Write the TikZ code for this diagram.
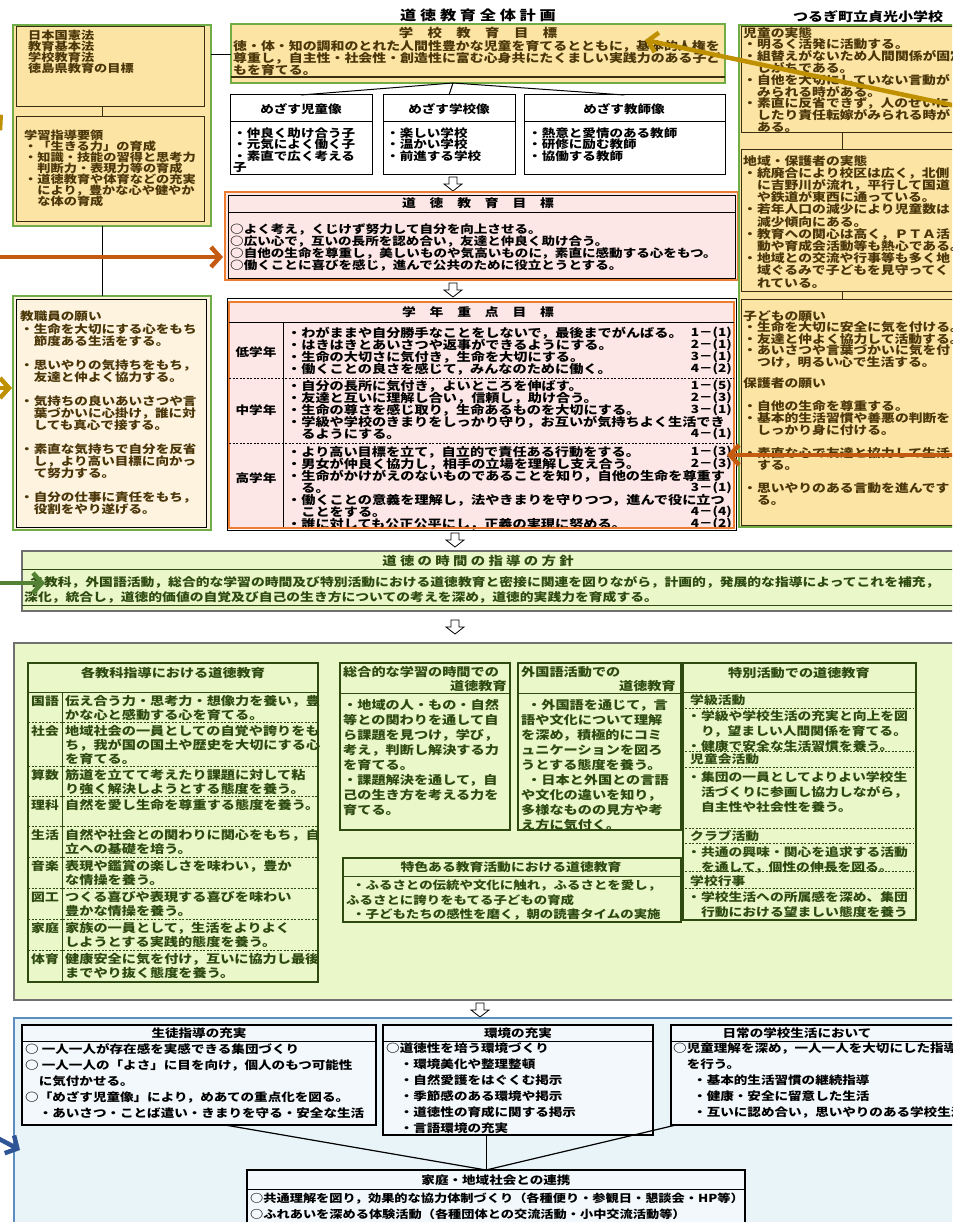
\documentclass[tikz,border=0pt]{standalone}
\usepackage{fontspec}
\setmainfont{Noto Sans CJK JP}[FakeStretch=1.2]
\usetikzlibrary{arrows.meta}
\newcommand{\fsz}[2]{\fontsize{#1}{#2}\selectfont\bfseries\lineskiplimit=-30pt\lineskip=0pt\relax}
\newcommand{\harrow}[2]{\draw[hollow, shift={(#1,#2)}] (-4,0) -- (4,0) -- (4,7) -- (9,7) -- (0,14) -- (-9,7) -- (-4,7) -- cycle;}
\definecolor{ylw}{HTML}{FCE4A4}
\definecolor{cream}{HTML}{FDF3DF}
\definecolor{gbord}{HTML}{70AD47}
\definecolor{obord}{HTML}{ED7D31}
\definecolor{pinkf}{HTML}{FDE6E6}
\definecolor{arrO}{HTML}{C55A11}
\definecolor{arrG}{HTML}{BF9000}
\definecolor{arrGr}{HTML}{548235}
\definecolor{arrB}{HTML}{2F5597}
\definecolor{lime}{HTML}{EAF7C8}
\definecolor{bluef}{HTML}{E9F4F9}
\definecolor{bbord}{HTML}{5B8DBE}
\definecolor{brownt}{HTML}{4A3608}
\definecolor{brn}{HTML}{3A2E10}
\definecolor{greent}{HTML}{2E4A10}
\definecolor{gray7}{HTML}{707070}
\tikzset{
  frame/.style={draw=#1, anchor=north west, inner sep=0pt, outer sep=0pt},
  tx/.style={anchor=north west, inner sep=0pt, align=left},
  txr/.style={anchor=north east, inner sep=0pt, align=right},
  hd/.style={inner sep=0pt},
  hollow/.style={draw=black, line width=0.8pt, fill=white},
  carrow/.style={line width=4.5pt, -{Straight Barb[length=9pt,width=20pt]}},
  dsep/.style={dash pattern=on 2pt off 1.5pt, line width=0.8pt},
}
\begin{document}
\begin{tikzpicture}[x=1pt,y=-1pt]
\useasboundingbox (0,0) rectangle (952,1222);
\fill[white] (0,0) rectangle (952,1222);
\clip (0,0) rectangle (952,1222);

% ---------- title ----------
\node[hd, font=\fsz{13.5}{13.5}] (title) at (478,15) {道 徳 教 育 全 体 計 画};
\node[hd, font=\fsz{12.5}{12.5}] (school) at (868,17) {つるぎ町立貞光小学校};

% ---------- top-left ----------
\node[frame=gbord, line width=2pt, fill=ylw, minimum width=198pt, minimum height=201pt] (tl) at (13,25) {};
\node[frame=brn, line width=1pt, minimum width=188pt, minimum height=80pt] (lawA) at (16,27) {};
\node[frame=brn, line width=1pt, minimum width=188pt, minimum height=105pt] (lawB) at (16,117) {};
\draw[brn, line width=1pt] ([xshift=-8pt]lawA.south) -- ([xshift=-8pt]lawB.north);
\node[tx, text=brownt, font=\fsz{11}{11}] (lawAt) at (28,30) {日本国憲法\\教育基本法\\学校教育法\\徳島県教育の目標};
\node[tx, text=brownt, font=\fsz{11}{11}] (lawBt) at (24,129.5) {学習指導要領\\・「生きる力」の育成\\・知識・技能の習得と思考力\\　判断力・表現力等の育成\\・道徳教育や体育などの充実\\　により，豊かな心や健やか\\　な体の育成};

% ---------- staff wishes ----------
\node[frame=gbord, line width=2pt, fill=cream, minimum width=198pt, minimum height=234pt] (staff) at (13,296) {};
\node[frame=black, line width=1pt, minimum width=190pt, minimum height=227pt] (staffin) at (16,300) {};
\draw[line width=1pt] ([xshift=-10pt]tl.south) -- ([xshift=-10pt]staff.north);
\node[tx, text=brownt, font=\fsz{11.3}{12}] (st0) at (20,311) {教職員の願い};
\node[tx, text=brownt, font=\fsz{11.3}{12}] (st1) at (20,324) {・生命を大切にする心をもち\\　節度ある生活をする。};
\node[tx, text=brownt, font=\fsz{11.3}{12}] (st2) at (20,360) {・思いやりの気持ちをもち，\\　友達と仲よく協力する。};
\node[tx, text=brownt, font=\fsz{11.3}{12}] (st3) at (20,396) {・気持ちの良いあいさつや言\\　葉づかいに心掛け，誰に対\\　しても真心で接する。};
\node[tx, text=brownt, font=\fsz{11.3}{12}] (st4) at (20,444) {・素直な気持ちで自分を反省\\　し，より高い目標に向かっ\\　て努力する。};
\node[tx, text=brownt, font=\fsz{11.3}{12}] (st5) at (20,492) {・自分の仕事に責任をもち，\\　役割をやり遂げる。};

% ---------- school goal ----------
\node[frame=gbord, line width=2pt, fill=ylw, minimum width=494pt, minimum height=59pt] (goal) at (231,24) {};
\node[hd, text=brownt, font=\fsz{12}{12}] (goalt) at (478,33) {学　校　教　育　目　標};
\node[tx, text=brownt, font=\fsz{11.6}{12}] (goaltx) at (233,40.5) {徳・体・知の調和のとれた人間性豊かな児童を育てるとともに，基本的人権を\\尊重し，自主性・社会性・創造性に富む心身共にたくましい実践力のある子ど\\もを育てる。};
\draw[brn, line width=1.2pt] (goal.west |- 0,77) -- (goal.east |- 0,77);
\coordinate (lk) at (211,55);
\draw[line width=1pt] (lk) -- (lk -| goal.west);

% ---------- three images ----------
\node[frame=black, line width=1pt, fill=white, minimum width=142pt, minimum height=80pt] (child) at (230,95) {};
\node[frame=black, line width=1pt, fill=white, minimum width=132pt, minimum height=80pt] (schl) at (383,95) {};
\node[frame=black, line width=1pt, fill=white, minimum width=201pt, minimum height=80pt] (teach) at (524,95) {};
\foreach \b in {child,schl,teach} {\draw[line width=1pt] (\b.west |- 0,122) -- (\b.east |- 0,122);}
\node[hd, font=\fsz{11.3}{11.3}] (childh) at (301,109) {めざす児童像};
\node[hd, font=\fsz{11.3}{11.3}] (schlh) at (449,109) {めざす学校像};
\node[hd, font=\fsz{11.3}{11.3}] (teachh) at (624,109) {めざす教師像};
\node[tx, font=\fsz{11.3}{11.4}] (childt) at (233,127.5) {・仲良く助け合う子\\・元気によく働く子\\・素直で広く考える\\子};
\node[tx, font=\fsz{11.3}{11.4}] (schlt) at (386,127.5) {・楽しい学校\\・温かい学校\\・前進する学校};
\node[tx, font=\fsz{11.3}{11.4}] (teacht) at (528,127.5) {・熱意と愛情のある教師\\・研修に励む教師\\・協働する教師};
\draw[line width=1pt] ([xshift=-25pt]goal.south) -- (child.north);
\draw[line width=1pt] ([xshift=-25pt]goal.south) -- (schl.north);
\draw[line width=1pt] ([xshift=-25pt]goal.south) -- (teach.north);

\harrow{453}{177}

% ---------- moral education goal ----------
\node[frame=obord, line width=2pt, fill=pinkf, minimum width=513pt, minimum height=88pt] (mgoal) at (225,192) {};
\node[frame=black, line width=0.8pt, minimum width=507pt, minimum height=83pt] (mgin) at (228,195) {};
\draw[line width=0.8pt] (mgin.west |- 0,212) -- (mgin.east |- 0,212);
\node[hd, font=\fsz{11.5}{11.5}] (mgt) at (478,203.5) {道　徳　教　育　目　標};
\node[tx, font=\fsz{11.3}{12}] (mgtx) at (230,224) {○よく考え，くじけず努力して自分を向上させる。\\○広い心で，互いの長所を認め合い，友達と仲良く助け合う。\\○自他の生命を尊重し，美しいものや気高いものに，素直に感動する心をもつ。\\○働くことに喜びを感じ，進んで公共のために役立とうとする。};

\harrow{453}{283}

% ---------- grade goals ----------
\node[frame=black, line width=1pt, minimum width=509pt, minimum height=231pt] (grout) at (227,299) {};
\node[frame=obord, line width=2pt, fill=pinkf, minimum width=505pt, minimum height=226pt] (grade) at (229,302) {};
\draw[line width=0.8pt] (grade.west |- 0,322) -- (grade.east |- 0,322);
\draw[line width=0.8pt] (283,322) -- (283,528);
\draw[dsep] (grade.west |- 0,378) -- (grade.east |- 0,378);
\draw[dsep] (grade.west |- 0,443) -- (grade.east |- 0,443);
\node[hd, font=\fsz{11.5}{11.5}] (grt) at (478,312) {学　年　重　点　目　標};
\node[hd, font=\fsz{11.3}{11.3}] (g1) at (256,352) {低学年};
\node[hd, font=\fsz{11.3}{11.3}] (g2) at (256,410) {中学年};
\node[hd, font=\fsz{11.3}{11.3}] (g3) at (256,478) {高学年};
\node[tx, font=\fsz{11.8}{12}] (g1t) at (287,327) {・わがままや自分勝手なことをしないで，最後までがんばる。\\・はきはきとあいさつや返事ができるようにする。\\・生命の大切さに気付き，生命を大切にする。\\・働くことの良さを感じて，みんなのために働く。};
\node[txr, font=\fsz{11.3}{12}] (g1n) at (732,327) {1－(1)\\2－(1)\\3－(1)\\4－(2)};
\node[tx, font=\fsz{11.8}{12}] (g2t) at (287,380) {・自分の長所に気付き，よいところを伸ばす。\\・友達と互いに理解し合い，信頼し，助け合う。\\・生命の尊さを感じ取り，生命あるものを大切にする。\\・学級や学校のきまりをしっかり守り，お互いが気持ちよく生活でき\\　るようにする。};
\node[txr, font=\fsz{11.3}{12}] (g2n) at (732,380) {1－(5)\\2－(3)\\3－(1)\\\mbox{}\\4－(1)};
\node[tx, font=\fsz{11.8}{12}] (g3t) at (287,446) {・より高い目標を立て，自立的で責任ある行動をする。\\・男女が仲良く協力し，相手の立場を理解し支え合う。\\・生命がかけがえのないものであることを知り，自他の生命を尊重す\\　る。\\・働くことの意義を理解し，法やきまりを守りつつ，進んで役に立つ\\　ことをする。\\・誰に対しても公正公平にし，正義の実現に努める。};
\node[txr, font=\fsz{11.3}{12}] (g3n) at (732,446) {1－(3)\\2－(3)\\\mbox{}\\3－(1)\\\mbox{}\\4－(4)\\4－(2)};
\draw[obord, line width=2pt] (grade.south west) -- (grade.south east);

% ---------- right column ----------
\node[frame=gbord, line width=2pt, fill=ylw, minimum width=240pt, minimum height=502pt] (rt) at (739,25) {};
\node[frame=brn, line width=1pt, minimum width=230pt, minimum height=106pt] (rA) at (741,27) {};
\node[frame=brn, line width=1pt, minimum width=230pt, minimum height=142pt] (rB) at (741,150) {};
\node[frame=brn, line width=1pt, minimum width=230pt, minimum height=225pt] (rC) at (741,300) {};
\draw[brn, line width=1pt] ([xshift=-14pt]rA.south) -- ([xshift=-14pt]rB.north);
\draw[brn, line width=1pt] ([xshift=-14pt]rB.south) -- ([xshift=-14pt]rC.north);
\node[tx, text=brownt, font=\fsz{11.5}{11.8}] (rAt) at (743,27) {児童の実態\\・明るく活発に活動する。\\・組替えがないため人間関係が固定化\\　しがちである。\\・自他を大切にしていない言動が\\　みられる時がある。\\・素直に反省できず，人のせいに\\　したり責任転嫁がみられる時が\\　ある。};
\node[tx, text=brownt, font=\fsz{11.5}{12.2}] (rBt) at (743,155) {地域・保護者の実態\\・統廃合により校区は広く，北側\\　に吉野川が流れ，平行して国道\\　や鉄道が東西に通っている。\\・若年人口の減少により児童数は\\　減少傾向にある。\\・教育への関心は高く，ＰＴＡ活\\　動や育成会活動等も熱心である。\\・地域との交流や行事等も多く地\\　域ぐるみで子どもを見守ってく\\　れている。};
\node[tx, text=brownt, font=\fsz{11.5}{11.5}] (rCt1) at (743,310) {子どもの願い\\・生命を大切に安全に気を付ける。\\・友達と仲よく協力して活動する。\\・あいさつや言葉づかいに気を付\\　つけ，明るい心で生活する。};
\node[tx, text=brownt, font=\fsz{11.5}{11.5}] (rCt2) at (743,377) {保護者の願い};
\node[tx, text=brownt, font=\fsz{11.5}{12}] (rCt3) at (743,400) {・自他の生命を尊重する。\\・基本的生活習慣や善悪の判断を\\　しっかり身に付ける。};
\node[tx, text=brownt, font=\fsz{11.5}{12}] (rCt4) at (743,447) {・素直な心で友達と協力して生活\\　する。};
\node[tx, text=brownt, font=\fsz{11.5}{12}] (rCt5) at (743,482) {・思いやりのある言動を進んです\\　る。};

\harrow{455}{533}

% ---------- policy ----------
\node[frame=gray7, line width=1.6pt, fill=lime, minimum width=940pt, minimum height=60pt] (policy) at (22,551) {};
\draw[greent, line width=0.8pt] (policy.west |- 0,569) -- (policy.east |- 0,569);
\node[hd, text=greent, font=\fsz{12}{12}] (polt) at (478,561) {道 徳 の 時 間 の 指 導 の 方 針};
\node[tx, text=greent, font=\fsz{11.5}{15}] (poltx1) at (30,576) {各教科，外国語活動，総合的な学習の時間及び特別活動における道徳教育と密接に関連を図りながら，計画的，発展的な指導によってこれを補充，};
\node[tx, text=greent, font=\fsz{11.5}{15}] (poltx2) at (24,591) {深化，統合し，道徳的価値の自覚及び自己の生き方についての考えを深め，道徳的実践力を育成する。};
\draw[greent, line width=0.8pt] (policy.west |- 0,605) -- (policy.east |- 0,605);

\harrow{455}{620}

% ---------- big green box ----------
\node[frame=gray7, line width=2pt, fill=lime, minimum width=946pt, minimum height=357pt] (big) at (14,643) {};
% subjects
\node[frame=greent, line width=1.2pt, minimum width=290pt, minimum height=319pt] (subj) at (28,663) {};
\draw[greent, line width=1pt] (subj.west |- 0,692) -- (subj.east |- 0,692);
\draw[greent, line width=1pt] (62,692) -- (62,982);
\foreach \yy in {722,766,796,826,857,888,919,950} {\draw[greent, dsep] (28,\yy) -- (318,\yy);}
\node[hd, text=greent, font=\fsz{11.8}{11.8}] (subjh) at (173,673) {各教科指導における道徳教育};
\foreach \yy/\nm in {692/国語,722/社会,766/算数,796/理科,826/生活,857/音楽,888/図工,919/家庭,950/体育} {\node[hd, text=greent, font=\fsz{11.5}{11.5}] at (45,\yy+9.5) {\nm};}
\node[tx, text=greent, font=\fsz{11.8}{14}] (s1) at (65,695) {伝え合う力・思考力・想像力を養い，豊\\かな心と感動する心を育てる。};
\node[tx, text=greent, font=\fsz{11.8}{14}] (s2) at (65,725) {地域社会の一員としての自覚や誇りをも\\ち，我が国の国土や歴史を大切にする心\\を育てる。};
\node[tx, text=greent, font=\fsz{11.8}{14}] (s3) at (65,769) {筋道を立てて考えたり課題に対して粘\\り強く解決しようとする態度を養う。};
\node[tx, text=greent, font=\fsz{11.8}{14}] (s4) at (65,799) {自然を愛し生命を尊重する態度を養う。};
\node[tx, text=greent, font=\fsz{11.8}{14}] (s5) at (65,829) {自然や社会との関わりに関心をもち，自\\立への基礎を培う。};
\node[tx, text=greent, font=\fsz{11.8}{14}] (s6) at (65,860) {表現や鑑賞の楽しさを味わい，豊か\\な情操を養う。};
\node[tx, text=greent, font=\fsz{11.8}{14}] (s7) at (65,891) {つくる喜びや表現する喜びを味わい\\豊かな情操を養う。};
\node[tx, text=greent, font=\fsz{11.8}{14}] (s8) at (65,922) {家族の一員として，生活をよりよく\\しようとする実践的態度を養う。};
\node[tx, text=greent, font=\fsz{11.8}{14}] (s9) at (65,953) {健康安全に気を付け，互いに協力し最後\\までやり抜く態度を養う。};
% integrated study
\node[frame=greent, line width=1.2pt, minimum width=170pt, minimum height=167pt] (integ) at (340,663) {};
\draw[greent, line width=1pt] (integ.west |- 0,693) -- (integ.east |- 0,693);
\node[tx, text=greent, font=\fsz{11.8}{11.8}] (integh1) at (343,666) {総合的な学習の時間での};
\node[txr, text=greent, font=\fsz{11.8}{11.8}] (integh2) at (507,680) {道徳教育};
\node[tx, text=greent, font=\fsz{11.8}{15}] (integt) at (343,699) {・地域の人・もの・自然\\等との関わりを通して自\\ら課題を見つけ，学び，\\考え，判断し解決する力\\を育てる。\\・課題解決を通して，自\\己の生き方を考える力を\\育てる。};
% foreign language
\node[frame=greent, line width=1.2pt, minimum width=163pt, minimum height=167pt] (forgn) at (518,663) {};
\draw[greent, line width=1pt] (forgn.west |- 0,693) -- (forgn.east |- 0,693);
\node[tx, text=greent, font=\fsz{11.8}{11.8}] (forgnh1) at (521,666) {外国語活動での};
\node[txr, text=greent, font=\fsz{11.8}{11.8}] (forgnh2) at (676,680) {道徳教育};
\node[tx, text=greent, font=\fsz{11.8}{15}] (forgnt) at (521,699) {\hspace{6pt}・外国語を通じて，言\\語や文化について理解\\を深め，積極的にコミ\\ュニケーションを図ろ\\うとする態度を養う。\\\hspace{6pt}・日本と外国との言語\\や文化の違いを知り，\\多様なものの見方や考\\え方に気付く。};
% special activities
\node[frame=greent, line width=1.2pt, minimum width=233pt, minimum height=257pt] (spec) at (683,663) {};
\draw[greent, line width=1pt] (spec.west |- 0,692) -- (spec.east |- 0,692);
\node[hd, text=greent, font=\fsz{11.8}{11.8}] (spech) at (799,673) {特別活動での道徳教育};
\foreach \yy in {708,751,767,828,843,871,888} {\draw[greent, dsep] (685,\yy) -- (914,\yy);}
\node[tx, text=greent, font=\fsz{11.5}{15}] (sp1) at (690,694) {学級活動};
\node[tx, text=greent, font=\fsz{11.5}{15}] (sp2) at (687,710) {・学級や学校生活の充実と向上を図\\　り，望ましい人間関係を育てる。\\・健康で安全な生活習慣を養う。};
\node[tx, text=greent, font=\fsz{11.5}{15}] (sp3) at (690,753) {児童会活動};
\node[tx, text=greent, font=\fsz{11.5}{15}] (sp4) at (687,771) {・集団の一員としてよりよい学校生\\　活づくりに参画し協力しながら，\\　自主性や社会性を養う。};
\node[tx, text=greent, font=\fsz{11.5}{15}] (sp5) at (690,830) {クラブ活動};
\node[tx, text=greent, font=\fsz{11.5}{15}] (sp6) at (687,846) {・共通の興味・関心を追求する活動\\　を通して，個性の伸長を図る。};
\node[tx, text=greent, font=\fsz{11.5}{15}] (sp7) at (690,875) {学校行事};
\node[tx, text=greent, font=\fsz{11.5}{15}] (sp8) at (687,891) {・学校生活への所属感を深め、集団\\　行動における望ましい態度を養う};
% distinctive activities
\node[frame=greent, line width=1.2pt, minimum width=338pt, minimum height=64pt] (dist) at (343,858) {};
\draw[greent, line width=1pt] (dist.west |- 0,876) -- (dist.east |- 0,876);
\node[hd, text=greent, font=\fsz{11.5}{11.5}] (disth) at (511,867) {特色ある教育活動における道徳教育};
\node[tx, text=greent, font=\fsz{11.2}{14.5}] (distt) at (346,880) {\hspace{6pt}・ふるさとの伝統や文化に触れ，ふるさとを愛し，\\ふるさとに誇りをもてる子どもの育成\\\hspace{6pt}・子どもたちの感性を磨く，朝の読書タイムの実施};

\harrow{480}{1003}

% ---------- bottom blue box ----------
\node[frame=bbord, line width=2pt, fill=bluef, minimum width=950pt, minimum height=230pt] (bottom) at (14,1018) {};
\node[frame=black, line width=1.2pt, fill=white!40!bluef, minimum width=354pt, minimum height=100pt] (seito) at (22,1025) {};
\node[frame=black, line width=1.2pt, fill=white!40!bluef, minimum width=270pt, minimum height=110pt] (kankyo) at (383,1025) {};
\node[frame=black, line width=1.2pt, fill=white!40!bluef, minimum width=290pt, minimum height=100pt] (nichi) at (671,1025) {};
\foreach \b in {seito,kankyo,nichi} {\draw[line width=1pt] (\b.west |- 0,1041) -- (\b.east |- 0,1041);}
\node[hd, font=\fsz{11.3}{11.3}] (seitoh) at (199,1033) {生徒指導の充実};
\node[hd, font=\fsz{11.3}{11.3}] (kankyoh) at (518,1033) {環境の充実};
\node[hd, font=\fsz{11.3}{11.3}] (nichih) at (797,1033) {日常の学校生活において};
\node[tx, font=\fsz{11.3}{16}] (seitot) at (25,1043) {○ 一人一人が存在感を実感できる集団づくり\\○ 一人一人の「よさ」に目を向け，個人のもつ可能性\\　に気付かせる。\\○「めざす児童像」により，めあての重点化を図る。\\　・あいさつ・ことば遣い・きまりを守る・安全な生活};
\node[tx, font=\fsz{11.3}{16}] (kankyot) at (386,1043) {○道徳性を培う環境づくり\\　・環境美化や整理整頓\\　・自然愛護をはぐくむ掲示\\　・季節感のある環境や掲示\\　・道徳性の育成に関する掲示\\　・言語環境の充実};
\node[tx, font=\fsz{11.3}{16}] (nichit) at (673,1043) {○児童理解を深め，一人一人を大切にした指導\\　を行う。\\\hspace{20pt}・基本的生活習慣の継続指導\\\hspace{20pt}・健康・安全に留意した生活\\\hspace{20pt}・互いに認め合い，思いやりのある学校生活};
\node[frame=black, line width=1.2pt, fill=white!40!bluef, minimum width=498pt, minimum height=70pt] (katei) at (247,1170) {};
\draw[line width=1pt] (katei.west |- 0,1189) -- (katei.east |- 0,1189);
\node[hd, font=\fsz{11.3}{11.3}] (kateih) at (496,1180) {家庭・地域社会との連携};
\node[tx, font=\fsz{11}{16}] (kateit) at (250,1192.5) {○共通理解を図り，効果的な協力体制づくり（各種便り・参観日・懇談会・HP等）\\○ふれあいを深める体験活動（各種団体との交流活動・小中交流活動等）};
\draw[line width=1.2pt] ([xshift=26pt]seito.south) -- ([xshift=-10pt]katei.north);
\draw[line width=1pt] ([xshift=-32pt]kankyo.south) -- ([xshift=-10pt]katei.north);
\draw[line width=1.2pt] ([xshift=5pt]nichi.south west) -- ([xshift=-10pt]katei.north);

% ---------- coloured arrows ----------
\coordinate (ga1) at (985,112); \coordinate (ga2) at (645,40);
\draw[carrow, arrG] (ga1) -- (ga2);
\coordinate (oa1) at (-10,257); \coordinate (oa2) at (223,257);
\draw[carrow, arrO] (oa1) -- (oa2);
\coordinate (gb1) at (-40,388); \coordinate (gb2) at (12,388);
\draw[carrow, arrG] (gb1) -- (gb2);
\coordinate (gc1) at (-40,150); \coordinate (gc2) at (3,115);
\draw[carrow, arrG] (gc1) -- (gc2);
\coordinate (ob1) at (985,455); \coordinate (ob2) at (727,455);
\draw[carrow, arrO] (ob1) -- (ob2);
\coordinate (gr1) at (-10,583); \coordinate (gr2) at (45,583);
\draw[carrow, arrGr] (gr1) -- (gr2);
\coordinate (bl1) at (-40,1118); \coordinate (bl2) at (20,1150);
\draw[carrow, arrB] (bl1) -- (bl2);
\end{tikzpicture}
\end{document}
